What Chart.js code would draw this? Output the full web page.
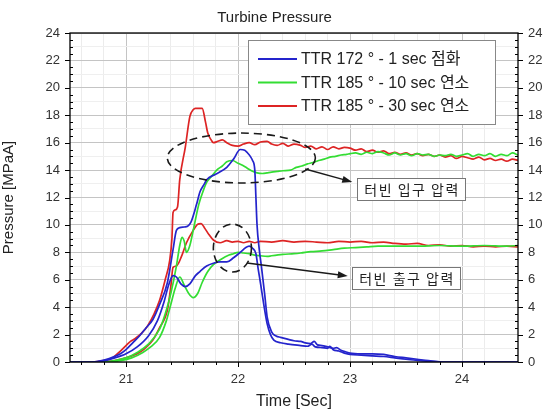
<!DOCTYPE html>
<html>
<head>
<meta charset="utf-8">
<script src="https://cdn.jsdelivr.net/npm/chart.js@4.4.0/dist/chart.umd.min.js"></script>
<style>
  html, body { margin: 0; padding: 0; background: #fff; }
</style>
</head>
<body>
<canvas id="chart" width="549" height="415"></canvas>
<script>
// series names (legend)
const seriesLabels = [
  'TTR 172 ° - 1 sec 점화',
  'TTR 185 ° - 10 sec 연소',
  'TTR 185 ° - 30 sec 연소'
];
const seriesColors = ['#2424cc', '#33dd33', '#dd2424'];

// [time (s), pressure (MPaA)]
const blueInlet = [[20.5,0],[20.7,0],[20.75,0.05],[20.85,0.25],[20.95,0.6],[21.0,0.9],[21.06,1.4],[21.12,1.9],[21.18,2.5],[21.24,3.1],[21.3,4.2],[21.37,5.8],[21.42,8.2],[21.45,9.6],[21.48,9.8],[21.52,9.85],[21.55,9.9],[21.58,10.2],[21.63,11.5],[21.66,12.4],[21.7,13.0],[21.72,13.3],[21.8,13.7],[21.9,14.2],[21.96,14.8],[22.02,15.5],[22.06,15.45],[22.08,15.3],[22.11,15.0],[22.13,14.7],[22.15,14.0],[22.16,12.0],[22.17,10.0],[22.19,8.2],[22.21,6.9],[22.24,4.8],[22.26,3.3],[22.3,2.2],[22.34,1.9],[22.38,1.8],[22.45,1.65],[22.5,1.55],[22.56,1.5],[22.6,1.4],[22.65,1.35],[22.68,1.5],[22.71,1.25],[22.75,1.2],[22.8,1.1],[22.85,1.0],[22.88,1.05],[22.92,0.85],[22.96,0.75],[23.0,0.65],[23.1,0.6],[23.2,0.6],[23.3,0.55],[23.4,0.4],[23.5,0.3],[23.6,0.2],[23.7,0.1],[23.8,0.02],[23.9,0],[24.5,0]];
const blueOutlet = [[20.5,0],[20.7,0],[20.78,0.05],[20.9,0.3],[21.0,0.6],[21.1,1.1],[21.2,1.9],[21.28,3.0],[21.34,4.4],[21.38,5.6],[21.42,6.3],[21.45,6.2],[21.49,5.7],[21.53,5.5],[21.57,5.7],[21.62,6.3],[21.66,6.6],[21.72,7.0],[21.78,7.2],[21.84,7.3],[21.9,7.3],[21.96,7.6],[22.02,8.0],[22.07,8.35],[22.1,8.45],[22.13,8.3],[22.16,7.9],[22.18,6.8],[22.2,5.8],[22.23,4.2],[22.26,2.8],[22.29,2.0],[22.32,1.6],[22.38,1.4],[22.45,1.3],[22.56,1.2],[22.62,1.15],[22.66,1.3],[22.69,1.1],[22.75,1.05],[22.8,1.0],[22.82,1.15],[22.85,0.9],[22.9,0.8],[22.95,0.65],[23.0,0.55],[23.1,0.5],[23.2,0.45],[23.3,0.4],[23.4,0.3],[23.5,0.2],[23.6,0.12],[23.7,0.05],[23.8,0],[24.5,0]];
const greenInlet = [[20.5,0],[20.8,0],[20.9,0.1],[21.0,0.3],[21.1,0.7],[21.2,1.3],[21.3,2.4],[21.35,3.5],[21.4,5.0],[21.45,7.0],[21.48,8.5],[21.5,9.1],[21.52,8.8],[21.54,8.0],[21.57,8.5],[21.6,9.6],[21.65,11.5],[21.69,12.5],[21.72,13.1],[21.77,13.6],[21.81,14.0],[21.86,14.3],[21.9,14.6],[21.95,14.7],[22.0,14.5],[22.04,14.35],[22.08,14.15],[22.12,13.95],[22.17,13.8],[22.22,13.75],[22.26,13.8],[22.3,13.85],[22.35,13.9],[22.4,13.95],[22.47,14.0],[22.52,14.2],[22.57,14.3],[22.62,14.45],[22.67,14.55],[22.72,14.7],[22.77,14.8],[22.82,14.95],[22.87,15.0],[22.92,15.1],[22.97,15.15],[23.0,15.2],[23.05,15.25],[23.1,15.15],[23.15,15.3],[23.2,15.2],[23.25,15.35],[23.3,15.25],[23.35,15.1],[23.4,15.25],[23.45,15.1],[23.5,15.2],[23.55,15.05],[23.6,15.2],[23.65,15.1],[23.7,15.15],[23.75,15.0],[23.8,15.1],[23.85,15.05],[23.9,15.15],[23.95,15.0],[24.0,15.1],[24.05,15.2],[24.1,15.0],[24.15,15.15],[24.2,15.05],[24.25,15.2],[24.3,15.0],[24.35,15.15],[24.4,15.05],[24.45,15.25],[24.5,15.1]];
const greenOutlet = [[20.5,0],[20.85,0],[20.95,0.1],[21.05,0.3],[21.15,0.7],[21.22,1.1],[21.3,1.8],[21.36,3.0],[21.4,4.2],[21.44,5.4],[21.48,6.2],[21.52,5.6],[21.56,5.0],[21.6,4.7],[21.64,5.0],[21.68,5.8],[21.73,6.6],[21.78,7.1],[21.85,7.5],[21.92,7.8],[21.96,7.9],[22.0,8.0],[22.05,7.95],[22.1,7.9],[22.15,7.8],[22.2,7.75],[22.26,7.7],[22.3,7.75],[22.4,7.85],[22.5,7.9],[22.56,7.95],[22.65,8.05],[22.75,8.1],[22.85,8.2],[22.95,8.3],[23.05,8.35],[23.15,8.4],[23.25,8.45],[23.4,8.45],[23.6,8.45],[23.8,8.5],[24.0,8.45],[24.2,8.5],[24.4,8.45],[24.5,8.5]];
const redInlet = [[20.5,0],[20.7,0],[20.8,0.1],[20.88,0.3],[20.95,0.8],[21.0,1.2],[21.04,1.5],[21.08,1.7],[21.14,2.1],[21.19,2.6],[21.25,3.5],[21.3,4.5],[21.35,6.0],[21.39,7.4],[21.41,9.0],[21.42,10.9],[21.44,11.1],[21.46,11.3],[21.48,13.3],[21.53,15.7],[21.57,17.9],[21.6,18.4],[21.62,18.5],[21.68,18.5],[21.71,17.5],[21.73,16.7],[21.76,16.2],[21.78,16.0],[21.82,16.1],[21.86,16.2],[21.9,16.0],[21.95,15.8],[22.0,15.75],[22.05,15.9],[22.1,16.0],[22.15,15.85],[22.2,16.05],[22.26,16.1],[22.3,15.9],[22.35,15.8],[22.4,15.95],[22.45,15.75],[22.5,15.9],[22.56,15.8],[22.6,15.65],[22.65,15.75],[22.7,15.55],[22.75,15.7],[22.8,15.5],[22.85,15.7],[22.9,15.55],[22.95,15.65],[23.0,15.6],[23.05,15.45],[23.1,15.55],[23.15,15.35],[23.2,15.45],[23.25,15.3],[23.3,15.4],[23.35,15.2],[23.4,15.3],[23.45,15.15],[23.5,15.25],[23.55,15.1],[23.6,15.2],[23.65,15.05],[23.7,15.15],[23.75,15.0],[23.8,15.1],[23.85,14.95],[23.9,15.05],[23.95,14.85],[24.0,15.0],[24.05,14.9],[24.1,14.8],[24.15,14.95],[24.2,14.75],[24.25,14.85],[24.3,14.7],[24.35,14.8],[24.4,14.65],[24.45,14.8],[24.5,14.7]];
const redOutlet = [[20.5,0],[20.8,0],[20.9,0.1],[21.0,0.3],[21.1,0.6],[21.17,1.0],[21.24,1.6],[21.3,2.5],[21.37,3.8],[21.4,5.5],[21.42,6.9],[21.45,7.0],[21.5,7.8],[21.54,8.7],[21.6,9.6],[21.64,10.05],[21.67,10.1],[21.7,9.8],[21.74,9.3],[21.78,8.9],[21.84,8.7],[21.9,8.85],[21.95,8.75],[22.0,8.8],[22.05,8.7],[22.1,8.8],[22.15,8.7],[22.2,8.8],[22.3,8.75],[22.4,8.85],[22.5,8.75],[22.6,8.8],[22.7,8.75],[22.8,8.7],[22.9,8.8],[23.0,8.75],[23.1,8.8],[23.2,8.7],[23.3,8.75],[23.4,8.65],[23.5,8.6],[23.6,8.65],[23.7,8.5],[23.8,8.55],[23.9,8.45],[24.0,8.5],[24.1,8.4],[24.2,8.45],[24.3,8.4],[24.4,8.45],[24.5,8.4]];

// axes
const xMajorTicks = [21, 22, 23, 24];
const yMajorTicks = [0, 2, 4, 6, 8, 10, 12, 14, 16, 18, 20, 22, 24];
const X_MIN = 20.5, X_MAX = 24.5, Y_MIN = 0, Y_MAX = 24;

// call-outs, in data units
const ellipses = [
  { x: 22.03, y: 14.88, rx: 0.661, ry: 1.82 },
  { x: 21.95, y: 8.31, rx: 0.17, ry: 1.75 }
];
const arrows = [
  { x0: 22.60, y0: 14.08, x1: 23.02, y1: 13.13 },
  { x0: 22.08, y0: 7.22, x1: 22.98, y1: 6.27 }
];
const boxLabels = [
  { text: '터빈 입구 압력', x: 23.065, y: 12.62 },
  { text: '터빈 출구 압력', x: 23.02, y: 6.15 }
];

const FONT = '"Liberation Sans", Arial, "Noto Sans CJK KR", sans-serif';
const KFONT = '"Noto Sans CJK KR", "Liberation Sans", sans-serif';

const xTickValues = [];
for (let i = 1; i < 20; i++) xTickValues.push(Math.round((X_MIN + i * 0.2 - 0.1) * 10) / 10);
const yTickValues = [];
for (let v = Y_MIN; v <= Y_MAX; v++) yTickValues.push(v);

const isInt = v => Math.abs(v - Math.round(v)) < 1e-6;

const toPts = arr => arr.map(p => ({ x: p[0], y: p[1] }));
const line = (data, color, label) => ({
  label: label || '',
  data: toPts(data),
  borderColor: color,
  backgroundColor: color,
  borderWidth: 1.7,
  pointRadius: 0,
  cubicInterpolationMode: 'monotone',
  inLegend: !!label
});

const datasets = [
  line(blueInlet, seriesColors[0], seriesLabels[0]),
  line(blueOutlet, seriesColors[0]),
  line(greenInlet, seriesColors[1], seriesLabels[1]),
  line(greenOutlet, seriesColors[1]),
  line(redInlet, seriesColors[2], seriesLabels[2]),
  line(redOutlet, seriesColors[2])
];

const callouts = {
  id: 'callouts',
  afterDatasetsDraw(chart) {
    const { ctx } = chart;
    const sx = chart.scales.x, sy = chart.scales.y;
    ctx.save();
    ctx.strokeStyle = '#1a1a1a';
    ctx.lineWidth = 1.6;
    ctx.setLineDash([8, 5]);
    ellipses.forEach(e => {
      const cx = sx.getPixelForValue(e.x), cy = sy.getPixelForValue(e.y);
      const rx = Math.abs(sx.getPixelForValue(e.x + e.rx) - cx);
      const ry = Math.abs(sy.getPixelForValue(e.y + e.ry) - cy);
      ctx.beginPath();
      ctx.ellipse(cx, cy, rx, ry, 0, 0, Math.PI * 2);
      ctx.stroke();
    });
    ctx.setLineDash([]);
    ctx.lineWidth = 1.4;
    ctx.fillStyle = '#1a1a1a';
    arrows.forEach(a => {
      const x0 = sx.getPixelForValue(a.x0), y0 = sy.getPixelForValue(a.y0);
      const x1 = sx.getPixelForValue(a.x1), y1 = sy.getPixelForValue(a.y1);
      const ang = Math.atan2(y1 - y0, x1 - x0);
      ctx.beginPath();
      ctx.moveTo(x0, y0);
      ctx.lineTo(x1 - 8 * Math.cos(ang), y1 - 8 * Math.sin(ang));
      ctx.stroke();
      ctx.beginPath();
      ctx.moveTo(x1, y1);
      ctx.lineTo(x1 - 10 * Math.cos(ang) + 3.5 * Math.sin(ang), y1 - 10 * Math.sin(ang) - 3.5 * Math.cos(ang));
      ctx.lineTo(x1 - 10 * Math.cos(ang) - 3.5 * Math.sin(ang), y1 - 10 * Math.sin(ang) + 3.5 * Math.cos(ang));
      ctx.closePath();
      ctx.fill();
    });
    ctx.font = '14px ' + KFONT;
    ctx.letterSpacing = '1.5px';
    ctx.textBaseline = 'middle';
    boxLabels.forEach(b => {
      const left = sx.getPixelForValue(b.x), cy = sy.getPixelForValue(b.y);
      const w = ctx.measureText(b.text).width + 12, h = 22;
      ctx.fillStyle = '#fff';
      ctx.fillRect(left, cy - h / 2, w, h);
      ctx.strokeStyle = '#777';
      ctx.lineWidth = 1;
      ctx.strokeRect(Math.round(left) + 0.5, Math.round(cy - h / 2) + 0.5, Math.round(w), h);
      ctx.fillStyle = '#222';
      ctx.fillText(b.text, left + 7, cy + 1);
    });
    ctx.restore();
  }
};

const frameAndLegend = {
  id: 'frameAndLegend',
  afterDraw(chart) {
    const { ctx, chartArea: a } = chart;
    const sx = chart.scales.x, sy = chart.scales.y;
    ctx.save();
    // tick marks
    ctx.strokeStyle = '#000';
    ctx.lineWidth = 1;
    ctx.beginPath();
    xTickValues.forEach(v => {
      const px = Math.round(sx.getPixelForValue(v)) + 0.5;
      const len = isInt(v) ? 5 : 3;
      ctx.moveTo(px, a.bottom);
      ctx.lineTo(px, a.bottom + len);
    });
    for (let v = Y_MIN; v <= Y_MAX; v += 0.5) {
      const py = Math.round(sy.getPixelForValue(v)) + 0.5;
      if (yMajorTicks.includes(v)) {
        ctx.moveTo(a.left, py); ctx.lineTo(a.left - 5, py);
        ctx.moveTo(a.right, py); ctx.lineTo(a.right + 5, py);
      } else {
        ctx.moveTo(a.left, py); ctx.lineTo(a.left + 3, py);
        ctx.moveTo(a.right, py); ctx.lineTo(a.right - 3, py);
      }
    }
    ctx.stroke();
    ctx.lineWidth = 1.3;
    ctx.strokeRect(a.left, a.top, a.right - a.left, a.bottom - a.top);

    // legend box
    const lx = 248, ly = 40, lw = 247, lh = 84;
    ctx.fillStyle = '#fff';
    ctx.fillRect(lx, ly, lw, lh);
    ctx.strokeStyle = '#888';
    ctx.lineWidth = 1;
    ctx.strokeRect(lx + 0.5, ly + 0.5, lw, lh);
    ctx.font = '16px ' + FONT;
    ctx.textBaseline = 'middle';
    let row = 0;
    chart.data.datasets.forEach(ds => {
      if (!ds.inLegend) return;
      const y = ly + 19 + row * 23.5;
      ctx.strokeStyle = ds.borderColor;
      ctx.lineWidth = 1.8;
      ctx.beginPath();
      ctx.moveTo(lx + 10, y);
      ctx.lineTo(lx + 49, y);
      ctx.stroke();
      ctx.fillStyle = '#222';
      ctx.fillText(ds.label, lx + 53, y + 1);
      row++;
    });
    ctx.restore();
  }
};

new Chart(document.getElementById('chart'), {
  type: 'line',
  data: { datasets },
  options: {
    responsive: false,
    animation: false,
    layout: { padding: 0 },
    plugins: {
      legend: { display: false },
      tooltip: { enabled: false },
      title: {
        display: true,
        text: 'Turbine Pressure',
        color: '#222',
        font: { family: FONT, size: 15, weight: 'normal' },
        padding: { top: 9, bottom: 6 }
      }
    },
    scales: {
      x: {
        type: 'linear',
        position: 'bottom',
        min: X_MIN,
        max: X_MAX,
        afterBuildTicks: s => { s.ticks = xTickValues.map(v => ({ value: v })); },
        afterFit: s => { s.height = 53; },
        ticks: {
          autoSkip: false,
          maxRotation: 0,
          padding: 10,
          color: '#333',
          font: { family: FONT, size: 13 },
          callback: v => (isInt(v) && xMajorTicks.includes(Math.round(v)) ? String(Math.round(v)) : '')
        },
        grid: {
          drawTicks: false,
          color: c => (isInt(c.tick.value) ? '#c4c4c4' : '#ececec')
        },
        border: { display: false },
        title: {
          display: true,
          text: 'Time [Sec]',
          color: '#222',
          font: { family: FONT, size: 16 },
          padding: { top: 0, bottom: 4 }
        }
      },
      y: {
        type: 'linear',
        position: 'left',
        min: Y_MIN,
        max: Y_MAX,
        afterBuildTicks: s => { s.ticks = yTickValues.map(v => ({ value: v })); },
        afterFit: s => { s.width = 70; },
        ticks: {
          autoSkip: false,
          padding: 10,
          color: '#333',
          font: { family: FONT, size: 13 },
          callback: v => (yMajorTicks.includes(v) ? String(v) : '')
        },
        grid: {
          drawTicks: false,
          color: c => (c.tick.value % 2 === 0 ? '#c4c4c4' : '#efefef')
        },
        border: { display: false },
        title: {
          display: true,
          text: 'Pressure [MPaA]',
          color: '#222',
          font: { family: FONT, size: 15 },
          padding: { top: 0, bottom: 4 }
        }
      },
      y2: {
        type: 'linear',
        position: 'right',
        min: Y_MIN,
        max: Y_MAX,
        afterBuildTicks: s => { s.ticks = yMajorTicks.map(v => ({ value: v })); },
        afterFit: s => { s.width = 31; },
        ticks: {
          autoSkip: false,
          padding: 10,
          color: '#333',
          font: { family: FONT, size: 13 }
        },
        grid: { display: false, drawTicks: false },
        border: { display: false }
      }
    }
  },
  plugins: [callouts, frameAndLegend]
});
</script>
</body>
</html>
